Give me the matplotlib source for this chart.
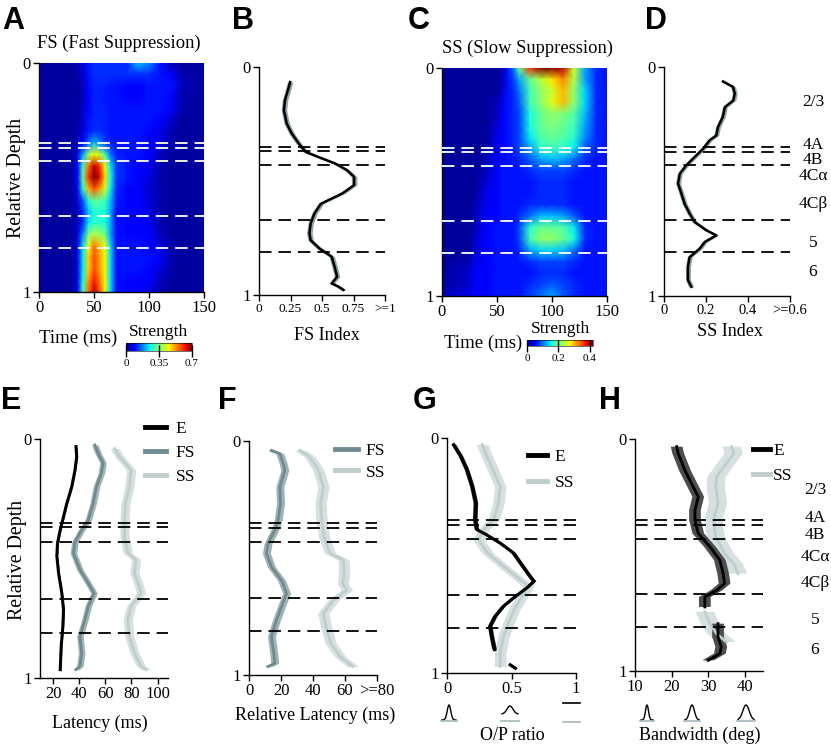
import numpy as np
import matplotlib
matplotlib.use('Agg')
import matplotlib.pyplot as plt
from matplotlib.lines import Line2D

W, H = 831, 747
plt.rcParams['font.family'] = ['Liberation Serif', 'DejaVu Serif']
plt.rcParams['lines.scale_dashes'] = False
plt.rcParams['axes.linewidth'] = 1.0

# ---------------- data ----------------
layer_bounds = [0.35, 0.37, 0.43, 0.67, 0.81]
layer_names = ['2/3', '4A', '4B', '4C\u03b1', '4C\u03b2', '5', '6']

heat_depth = [0.00, 0.05, 0.10, 0.15, 0.20, 0.25, 0.30, 0.35, 0.40, 0.45, 0.50,
              0.55, 0.60, 0.65, 0.70, 0.75, 0.80, 0.85, 0.90, 0.95, 1.00]

fs_time = [0, 30, 35, 40, 45, 50, 55, 60, 65, 70, 80, 90, 100, 110, 120, 130, 150]
fs_strength = [
    [0.02,0.02,0.03,0.06,0.10,0.12,0.12,0.12,0.12,0.12,0.12,0.22,0.18,0.10,0.03,0.02,0.02],
    [0.02,0.02,0.03,0.05,0.10,0.12,0.12,0.12,0.12,0.12,0.12,0.12,0.12,0.10,0.08,0.03,0.02],
    [0.02,0.02,0.02,0.04,0.09,0.11,0.11,0.11,0.10,0.10,0.09,0.08,0.10,0.10,0.10,0.04,0.02],
    [0.02,0.02,0.02,0.04,0.09,0.11,0.11,0.10,0.10,0.10,0.08,0.09,0.10,0.10,0.09,0.03,0.02],
    [0.02,0.02,0.02,0.05,0.09,0.11,0.11,0.11,0.10,0.10,0.10,0.10,0.10,0.10,0.08,0.03,0.02],
    [0.02,0.02,0.02,0.05,0.10,0.11,0.11,0.11,0.10,0.10,0.10,0.10,0.10,0.09,0.05,0.02,0.02],
    [0.02,0.02,0.03,0.06,0.10,0.12,0.12,0.11,0.10,0.10,0.10,0.10,0.09,0.07,0.03,0.02,0.02],
    [0.02,0.02,0.04,0.09,0.16,0.22,0.18,0.13,0.11,0.10,0.10,0.10,0.09,0.06,0.03,0.02,0.02],
    [0.02,0.02,0.06,0.20,0.38,0.45,0.42,0.30,0.17,0.11,0.10,0.10,0.08,0.04,0.02,0.02,0.02],
    [0.02,0.02,0.08,0.30,0.55,0.66,0.60,0.45,0.25,0.13,0.10,0.09,0.07,0.03,0.02,0.02,0.02],
    [0.02,0.02,0.08,0.33,0.60,0.70,0.64,0.48,0.27,0.13,0.10,0.08,0.06,0.03,0.02,0.02,0.02],
    [0.02,0.02,0.07,0.28,0.50,0.58,0.52,0.42,0.25,0.12,0.09,0.08,0.05,0.03,0.02,0.02,0.02],
    [0.02,0.02,0.05,0.15,0.28,0.33,0.32,0.30,0.22,0.11,0.09,0.08,0.06,0.03,0.02,0.02,0.02],
    [0.02,0.02,0.04,0.12,0.22,0.27,0.28,0.27,0.20,0.10,0.09,0.08,0.06,0.03,0.02,0.02,0.02],
    [0.02,0.02,0.04,0.12,0.25,0.28,0.28,0.27,0.20,0.10,0.09,0.08,0.07,0.03,0.02,0.02,0.02],
    [0.02,0.02,0.05,0.18,0.35,0.40,0.38,0.34,0.20,0.10,0.09,0.09,0.08,0.04,0.02,0.02,0.02],
    [0.02,0.02,0.06,0.24,0.45,0.55,0.50,0.44,0.24,0.10,0.10,0.10,0.09,0.06,0.03,0.02,0.02],
    [0.02,0.02,0.06,0.25,0.48,0.58,0.52,0.45,0.24,0.10,0.10,0.10,0.10,0.08,0.03,0.02,0.02],
    [0.02,0.02,0.06,0.25,0.48,0.58,0.52,0.45,0.24,0.10,0.10,0.10,0.09,0.06,0.03,0.02,0.02],
    [0.02,0.02,0.06,0.27,0.52,0.62,0.55,0.45,0.24,0.10,0.09,0.09,0.08,0.04,0.02,0.02,0.02],
    [0.02,0.02,0.07,0.30,0.56,0.66,0.58,0.45,0.24,0.10,0.09,0.08,0.06,0.03,0.02,0.02,0.02],
]

ss_time = [0, 25, 30, 40, 50, 55, 60, 65, 70, 80, 90, 100, 110, 120, 130, 140, 150]
ss_strength = [
    [0.01,0.01,0.01,0.01,0.01,0.02,0.06,0.10,0.20,0.36,0.42,0.42,0.40,0.25,0.12,0.07,0.06],
    [0.01,0.01,0.01,0.01,0.01,0.02,0.06,0.08,0.12,0.20,0.24,0.28,0.32,0.24,0.12,0.07,0.06],
    [0.01,0.01,0.01,0.01,0.01,0.03,0.06,0.07,0.10,0.18,0.22,0.25,0.30,0.22,0.14,0.07,0.06],
    [0.01,0.01,0.01,0.01,0.02,0.04,0.06,0.07,0.09,0.18,0.22,0.26,0.30,0.22,0.14,0.07,0.06],
    [0.01,0.01,0.01,0.01,0.02,0.05,0.06,0.07,0.08,0.16,0.20,0.22,0.21,0.19,0.13,0.07,0.06],
    [0.01,0.01,0.01,0.01,0.03,0.05,0.06,0.07,0.08,0.16,0.20,0.21,0.20,0.18,0.12,0.07,0.06],
    [0.01,0.01,0.01,0.01,0.04,0.05,0.06,0.07,0.08,0.15,0.19,0.20,0.19,0.17,0.11,0.07,0.06],
    [0.01,0.01,0.01,0.01,0.04,0.05,0.06,0.07,0.08,0.12,0.17,0.18,0.17,0.15,0.09,0.07,0.06],
    [0.01,0.01,0.01,0.02,0.05,0.05,0.06,0.06,0.07,0.09,0.12,0.13,0.12,0.10,0.07,0.06,0.06],
    [0.01,0.01,0.01,0.02,0.05,0.06,0.06,0.06,0.06,0.07,0.08,0.08,0.08,0.07,0.06,0.06,0.06],
    [0.01,0.01,0.01,0.03,0.05,0.06,0.06,0.06,0.06,0.06,0.07,0.07,0.07,0.06,0.06,0.06,0.06],
    [0.01,0.01,0.01,0.04,0.05,0.06,0.06,0.06,0.06,0.06,0.07,0.07,0.07,0.06,0.06,0.06,0.06],
    [0.01,0.01,0.02,0.04,0.05,0.06,0.06,0.06,0.06,0.07,0.07,0.07,0.07,0.06,0.06,0.06,0.06],
    [0.01,0.01,0.02,0.05,0.05,0.06,0.06,0.06,0.07,0.10,0.13,0.13,0.12,0.09,0.06,0.06,0.06],
    [0.01,0.01,0.02,0.05,0.06,0.06,0.06,0.06,0.08,0.17,0.20,0.20,0.19,0.15,0.07,0.06,0.06],
    [0.01,0.01,0.03,0.05,0.06,0.06,0.06,0.06,0.08,0.18,0.22,0.22,0.20,0.16,0.07,0.06,0.06],
    [0.01,0.01,0.03,0.05,0.06,0.06,0.06,0.06,0.07,0.12,0.14,0.14,0.13,0.10,0.06,0.06,0.06],
    [0.01,0.02,0.04,0.05,0.06,0.06,0.06,0.06,0.06,0.07,0.08,0.08,0.08,0.07,0.06,0.06,0.06],
    [0.01,0.03,0.05,0.05,0.06,0.06,0.06,0.06,0.06,0.06,0.07,0.07,0.07,0.06,0.06,0.06,0.06],
    [0.01,0.03,0.05,0.05,0.06,0.06,0.06,0.06,0.06,0.07,0.08,0.09,0.08,0.07,0.06,0.06,0.06],
    [0.02,0.04,0.05,0.05,0.06,0.06,0.06,0.06,0.06,0.08,0.10,0.12,0.09,0.07,0.06,0.06,0.06],
]

# B: FS index
fsi_depth = [0.066,0.095,0.146,0.19,0.248,0.292,0.336,0.372,0.394,0.423,0.453,0.482,0.518,
             0.555,0.60,0.642,0.686,0.73,0.76,0.796,0.832,0.876,0.92,0.949,0.963,0.978]
fsi_value = [0.247,0.233,0.206,0.198,0.22,0.26,0.316,0.37,0.467,0.604,0.70,0.755,0.755,
             0.66,0.49,0.44,0.41,0.40,0.41,0.48,0.577,0.60,0.62,0.577,0.63,0.67]
fsi_err = 0.022

# D: SS index
ssi_depth = [0.063,0.087,0.116,0.146,0.175,0.218,0.262,0.299,0.32,0.357,0.393,0.429,0.466,
             0.509,0.553,0.597,0.64,0.677,0.713,0.735,0.764,0.793,0.83,0.873,0.93,0.96]
ssi_value = [0.281,0.329,0.337,0.33,0.29,0.28,0.257,0.249,0.217,0.186,0.146,0.106,0.075,
             0.067,0.083,0.098,0.122,0.146,0.202,0.249,0.194,0.17,0.122,0.114,0.114,0.13]
ssi_err = 0.012

# E: latency
e_lat_depth = [0.032,0.074,0.13,0.2,0.27,0.325,0.38,0.436,0.49,0.56,0.645,0.714,0.784,0.868,0.965]
e_lat = [37.6,38.1,36.8,34.3,30.5,28.0,25.5,23.4,22.9,24.2,26.7,28.0,27.5,26.2,25.5]
e_lat_err = 0.6
fs_lat_depth = [0.025,0.06,0.10,0.143,0.2,0.27,0.34,0.38,0.43,0.478,0.547,0.603,0.645,0.70,
                0.756,0.826,0.896,0.95,0.965]
fs_lat = [52.0,54.5,58.3,57.0,53.2,50.7,46.9,41.9,36.8,35.6,40.6,46.9,51.4,46.9,44.4,40.6,
          41.9,40.6,37.6]
fs_lat_err = 2.5
ss_lat_depth = [0.04,0.074,0.13,0.2,0.27,0.34,0.41,0.478,0.505,0.56,0.617,0.645,0.70,0.756,
                0.826,0.896,0.95,0.965]
ss_lat = [67.1,70.9,79.7,78.5,75.4,74.7,74.7,77.2,83.5,82.3,86.0,87.3,79.7,77.2,78.5,82.3,
          87.3,91.1]
ss_lat_err = 3.5

# F: relative latency
fs_rel_depth = [0.04,0.054,0.097,0.125,0.196,0.267,0.339,0.381,0.438,0.48,0.538,0.595,0.651,
                0.708,0.765,0.836,0.908,0.95,0.964]
fs_rel = [14.0,19.3,21.4,22.4,19.3,19.7,18.2,16.1,11.9,10.9,14.0,20.3,23.5,20.3,17.2,14.0,
          15.5,16.1,11.9]
fs_rel_err = 2.5
ss_rel_depth = [0.04,0.068,0.125,0.196,0.267,0.339,0.41,0.48,0.509,0.566,0.609,0.637,0.68,
                0.737,0.794,0.865,0.922,0.964]
ss_rel = [31.8,38.1,43.4,46.5,44.8,45.4,46.9,50.7,59.1,59.5,58.6,61.2,52.8,46.5,48.2,51.1,
          57.0,64.9]
ss_rel_err = 3.5

# G: O/P ratio
e_op_depth = [0.028,0.078,0.135,0.206,0.277,0.348,0.39,0.411,0.447,0.489,0.546,0.589,0.61,
              0.638,0.681,0.716,0.759,0.801,0.844,0.901,0.93,0.965,0.98]
e_op = [0.052,0.108,0.155,0.196,0.224,0.219,0.232,0.304,0.412,0.515,0.588,0.644,0.675,
        0.619,0.515,0.438,0.374,0.335,0.348,0.369,np.nan,0.49,0.53]
e_op_err = 0.018
ss_op_depth = [0.028,0.064,0.135,0.206,0.277,0.348,0.39,0.433,0.489,0.546,0.603,0.631,0.674,
               0.73,0.787,0.844,0.915,0.972]
ss_op = [0.273,0.299,0.356,0.412,0.399,0.361,0.284,0.245,0.314,0.438,0.567,0.631,0.582,
         0.521,0.477,0.438,0.412,0.412]
ss_op_err = 0.045

# H: bandwidth
e_bw_depth = [0.033,0.062,0.134,0.206,0.249,0.306,0.35,0.407,0.465,0.522,0.58,0.623,0.652,
              0.681,0.724,0.76,0.796,0.853,0.896,0.925,0.954]
e_bw = [21.4,21.8,23.6,25.9,27.3,26.4,26.4,27.3,30.5,33.2,34.1,34.5,32.3,29.1,29.1,np.nan,
        32.7,32.7,33.6,33.2,30.0]
e_bw_err = 1.6
ss_bw_depth = [0.033,0.062,0.105,0.163,0.206,0.278,0.35,0.422,0.494,0.537,0.58,0.62,0.66,
               0.745,0.796,0.839,0.875]
ss_bw = [36.4,37.0,35.0,32.3,32.1,32.7,31.4,32.1,34.5,37.0,38.2,np.nan,np.nan,29.1,30.5,
         32.3,35.0]
ss_bw_err = 2.5

# ---------------- styling ----------------
FS_C, FS_BAND = '#6f8b91', '#a0b3b6'
SS_C, SS_BAND = '#bfcdcd', '#d6e0e0'
IDX_BAND = '#8fa6a9'
DASH = (9, 5)

fig = plt.figure(figsize=(W / 100, H / 100), dpi=100)


def pax(x0, y0, x1, y1):
    return fig.add_axes([x0 / W, 1 - y1 / H, (x1 - x0) / W, (y1 - y0) / H])


def depth_axis(ax, xlim, xticks, xlabels, xfs=12):
    ax.set_ylim(1, 0)
    ax.set_yticks([0, 1])
    ax.set_yticklabels(['0', '1'], fontsize=12)
    ax.set_xlim(*xlim)
    ax.set_xticks(xticks)
    ax.set_xticklabels(xlabels, fontsize=xfs)
    for s in ['top', 'right']:
        ax.spines[s].set_visible(False)
    ax.tick_params(direction='out', length=4, width=1, pad=2)
    ax.patch.set_alpha(0)


def bounds(ax, color='k'):
    for b in layer_bounds:
        ax.axhline(b, color=color, lw=1.3, dashes=DASH, zorder=5)


def series(ax, d, v, err, color, band, lw=2.0):
    d = np.asarray(d, float)
    v = np.asarray(v, float)
    ax.fill_betweenx(d, v - err, v + err, color=band, lw=0, zorder=2)
    ax.plot(v, d, color=color, lw=lw, zorder=3)


def heat(ax, t, z, vmax):
    T, D = np.meshgrid(np.asarray(t, float), np.asarray(heat_depth, float))
    m = ax.pcolormesh(T, D, np.asarray(z), shading='gouraud', cmap='jet', vmin=0, vmax=vmax)
    ax.set_xlim(0, 150)
    ax.set_ylim(1, 0)
    ax.set_xticks([0, 50, 100, 150])
    ax.set_xticklabels(['0', '50', '100', '150'], fontsize=12)
    ax.set_yticks([0, 1])
    ax.set_yticklabels(['0', '1'], fontsize=12)
    for s in ['top', 'right']:
        ax.spines[s].set_visible(False)
    ax.tick_params(direction='out', length=4, width=1, pad=2)
    return m


def cbar(m, box, ticks, labels):
    cax = pax(*box)
    cb = fig.colorbar(m, cax=cax, orientation='horizontal', ticks=ticks)
    cb.ax.set_xticklabels(labels, fontsize=8)
    cb.ax.tick_params(direction='inout', length=8, width=1, pad=2)
    cb.outline.set_linewidth(0.4)


def legend(ax, handles, x, y, pad=0.6, hl=1.4, sp=0.45):
    ax.legend(handles=handles, loc='upper left', bbox_to_anchor=(x / W, 1 - y / H),
              bbox_transform=fig.transFigure, frameon=False, borderpad=0,
              borderaxespad=0, handlelength=hl, handletextpad=pad, labelspacing=sp,
              prop={'family': 'Liberation Serif', 'size': 12.5})


# A
axA = pax(39, 63, 204, 292)
mA = heat(axA, fs_time, fs_strength, 0.7)
bounds(axA, 'white')
cbar(mA, (126, 343, 192, 351), [0, 0.35, 0.7], ['0', '0.35', '0.7'])

# B
axB = pax(259, 67, 385, 295)
series(axB, fsi_depth, fsi_value, fsi_err, 'k', IDX_BAND, lw=1.8)
bounds(axB)
depth_axis(axB, (0, 1), [0, 0.25, 0.5, 0.75, 1], ['0', '0.25', '0.5', '0.75', '>=1'], xfs=9.5)

# C
axC = pax(442, 68, 607, 296)
mC = heat(axC, ss_time, ss_strength, 0.42)
bounds(axC, 'white')
cbar(mC, (527, 340, 593, 346), [0, 0.2, 0.4], ['0', '0.2', '0.4'])

# D
axD = pax(664, 67, 790, 296)
series(axD, ssi_depth, ssi_value, ssi_err, 'k', IDX_BAND, lw=1.8)
bounds(axD)
depth_axis(axD, (0, 0.6), [0, 0.2, 0.4, 0.6], ['0', '0.2', '0.4', '>=0.6'], xfs=10.5)

# E
axE = pax(40, 439, 168, 678)
series(axE, ss_lat_depth, ss_lat, ss_lat_err, SS_C, SS_BAND)
series(axE, fs_lat_depth, fs_lat, fs_lat_err, FS_C, FS_BAND)
series(axE, e_lat_depth, e_lat, e_lat_err, 'k', '#333333', lw=2.2)
bounds(axE)
depth_axis(axE, (10, 108), [20, 40, 60, 80, 100], ['20', '40', '60', '80', '100'])
legend(axE, [Line2D([], [], color='k', lw=3.5, label='E'),
             Line2D([], [], color=FS_C, lw=3.5, label='FS'),
             Line2D([], [], color=SS_C, lw=3.5, label='SS')], 145, 421, hl=1.2, pad=0.55)

# F
axF = pax(249, 441, 377, 675)
series(axF, ss_rel_depth, ss_rel, ss_rel_err, SS_C, SS_BAND)
series(axF, fs_rel_depth, fs_rel, fs_rel_err, FS_C, FS_BAND)
bounds(axF)
depth_axis(axF, (0, 80), [0, 20, 40, 60, 80], ['0', '20', '40', '60', '>=80'])
legend(axF, [Line2D([], [], color=FS_C, lw=3.5, label='FS'),
             Line2D([], [], color=SS_C, lw=3.5, label='SS')], 335, 443, hl=1.3, pad=0.45,
       sp=0.3)

# G
axG = pax(447, 438, 576, 673)
series(axG, ss_op_depth, ss_op, ss_op_err, SS_C, SS_BAND)
series(axG, e_op_depth, e_op, e_op_err, 'k', '#222222', lw=2.2)
bounds(axG)
depth_axis(axG, (0, 1), [0, 0.5, 1], ['0', '0.5', '1'])
legend(axG, [Line2D([], [], color='k', lw=3.5, label='E'),
             Line2D([], [], color=SS_C, lw=3.5, label='SS')], 528, 449, hl=1.1, pad=0.45,
       sp=0.55)

# H
axH = pax(635, 439, 763, 671)
series(axH, ss_bw_depth, ss_bw, ss_bw_err, SS_C, SS_BAND)
series(axH, e_bw_depth, e_bw, e_bw_err, 'k', '#4d4d4d', lw=2.0)
bounds(axH)
depth_axis(axH, (10, 45), [10, 20, 30, 40], ['10', '20', '30', '40'])
legend(axH, [Line2D([], [], color='k', lw=3.5, label='E'),
             Line2D([], [], color=SS_C, lw=3.5, label='SS')], 753, 443, pad=0.15, hl=1.0,
       sp=0.5)

# ---------------- overlay texts & glyphs ----------------
ov = fig.add_axes([0, 0, 1, 1], zorder=10)
ov.set_xlim(0, W)
ov.set_ylim(H, 0)
ov.axis('off')


def t(x, y, s, size=13, **kw):
    kw.setdefault('ha', 'center')
    kw.setdefault('va', 'center')
    ov.text(x, y, s, fontsize=size, **kw)


for letter, (x, y) in {'A': (2, 21), 'B': (232, 21), 'C': (408, 21), 'D': (645, 21),
                       'E': (1, 401), 'F': (218, 401), 'G': (413, 401), 'H': (599, 401)}.items():
    t(x, y, letter, size=22, ha='left', family='Liberation Sans', weight='bold')

t(119, 43, 'FS (Fast Suppression)', 13.3)
t(527, 48, 'SS (Slow Suppression)', 13.3)
t(17, 178, 'Relative Depth', 14.3, rotation=90)
t(18, 560, 'Relative Depth', 14.3, rotation=90)
t(78, 338, 'Time (ms)', 13.5)
t(483, 343, 'Time (ms)', 13.5)
t(159, 332, 'Strength', 12.5)
t(560, 329, 'Strength', 12.5)
t(327, 336, 'FS Index', 13)
t(730, 332, 'SS Index', 13)
t(100, 723, 'Latency (ms)', 13)
t(315, 715, 'Relative Latency (ms)', 13)
t(512, 735, 'O/P ratio', 13)
t(700, 735, 'Bandwidth (deg)', 13)

for name, y in zip(layer_names, [102, 145, 160, 176, 204, 243, 272]):
    t(813, y, name, 12.5)
for name, y in zip(layer_names, [490, 518, 535, 557, 583, 620, 650]):
    t(815, y, name, 12.5)

GLYPH_GRAY = '#a3b7ba'


def peak_glyph(cx, sig, base, top, half):
    xs = np.linspace(cx - half, cx + half, 80)
    ys = base - (base - top) * np.exp(-0.5 * ((xs - cx) / sig) ** 2)
    ov.plot(xs, ys, color='k', lw=1.0)
    ov.plot([cx - half - 1, cx + half + 1], [721, 721], color=GLYPH_GRAY, lw=1.2)


peak_glyph(449, 1.8, 720, 705, 7)
peak_glyph(510, 3.0, 714, 706, 8)
ov.plot([563, 580], [703, 703], color='k', lw=1.2)
ov.plot([563, 580], [722, 722], color=GLYPH_GRAY, lw=1.2)

peak_glyph(647, 1.5, 720, 705, 6)
peak_glyph(692, 2.4, 720, 705, 7)
peak_glyph(746, 3.2, 720, 705, 8)

fig.savefig('out.png', dpi=100)
